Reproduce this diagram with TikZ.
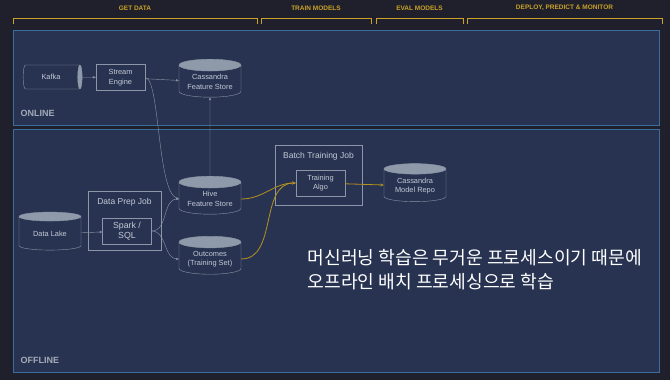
\documentclass[tikz,border=0pt]{standalone}
\usepackage{fontspec}
\setmainfont{Liberation Sans}
\newfontfamily\korean{Noto Sans CJK KR}
\usetikzlibrary{arrows.meta, positioning, shapes.geometric}
\definecolor{bgDark}{HTML}{1F202C}
\definecolor{panelFill}{HTML}{283352}
\definecolor{panelLine}{HTML}{3A6C9C}
\definecolor{headGold}{HTML}{C9A227}
\definecolor{lineGray}{HTML}{8C96A6}
\definecolor{textGray}{HTML}{C3CAD4}
\definecolor{capGray}{HTML}{8E99AA}
\definecolor{flowGold}{HTML}{B8921E}

\begin{document}
\begin{tikzpicture}[x=1pt, y=-1pt,
    head/.style={font=\bfseries\fontsize{6.5}{7}\selectfont, text=headGold},
    bracket/.style={draw=headGold, line width=0.8pt},
    panel/.style={draw=panelLine, fill=panelFill, line width=0.8pt},
    tag/.style={font=\bfseries\fontsize{9}{10}\selectfont, text=lineGray!80!white, anchor=west},
    db/.style={cylinder, shape border rotate=90, aspect=0.25, draw=lineGray,
               cylinder uses custom fill, cylinder body fill=panelFill,
               cylinder end fill=capGray, minimum width=62pt, minimum height=38pt,
               font=\fontsize{7.4}{9.5}\selectfont, text=textGray, align=center,
               inner sep=1pt},
    box/.style={rectangle, draw=lineGray, minimum width=49pt, minimum height=26pt,
                font=\fontsize{7.4}{9.5}\selectfont, text=textGray, align=center},
    job/.style={rectangle, draw=lineGray},
    flow/.style={draw=lineGray, -{Stealth[length=3pt, width=2.5pt]}},
    hot/.style={draw=flowGold, line width=0.8pt, -{Stealth[length=3.5pt, width=3pt]}},
  ]
    \fill[bgDark] (0,0) rectangle (670,380);
    \useasboundingbox (0,0) rectangle (670,380);

    % stage headers
    \foreach \xa/\xb/\txt [count=\i] in {13/257/GET DATA, 261/371/TRAIN MODELS,
        376/463/EVAL MODELS, 467/662/{DEPLOY, PREDICT \& MONITOR}} {
      \draw[bracket] (\xa,24) -- (\xa,18) -- (\xb,18) -- (\xb,24);
      \node[head] (h\i) at ({(\xa+\xb)/2},8) {\txt};
    }

    % lanes
    \draw[panel] (13,30) rectangle (659,125);
    \draw[panel] (13,129) rectangle (659,372);
    \node[tag] (online) at (17,113) {ONLINE};
    \node[tag] (offline) at (17,360) {OFFLINE};

    % online path
    \node[db, shape border rotate=0, minimum width=24pt, minimum height=59pt,
          aspect=0.6] (kafka) at (51,77) {Kafka};
    \node[box] (stream) at (120.5,77.5) {Stream\\Engine};
    \node[db] (cfs) at (210,82) {Cassandra\\Feature Store};

    % offline path
    \node[db] (lake) at (50,234) {Data Lake};
    \node[job, minimum width=73pt, minimum height=59pt] (prep) at (124.5,220.5) {};
    \node[font=\fontsize{8.5}{10}\selectfont, text=textGray, below=4pt of prep.north] (preplbl)
      {Data Prep Job};
    \node[box, font=\fontsize{8.8}{10.5}\selectfont] (spark) at (127,231) {Spark /\\SQL};
    \node[db] (hive) at (210,199) {Hive\\Feature Store};
    \node[db] (outc) at (210,259) {Outcomes\\(Training Set)};
    \node[job, minimum width=87pt, minimum height=60pt] (batch) at (318.5,175) {};
    \node[font=\fontsize{8.5}{10}\selectfont, text=textGray, below=4pt of batch.north] (batchlbl)
      {Batch Training Job};
    \node[box] (algo) at (320.5,183) {Training\\Algo};
    \node[db] (repo) at (415,186) {Cassandra\\Model Repo};

    \node[font=\korean\fontsize{18.2}{24}\selectfont, text=white, align=left, anchor=north west]
      (note) at (304,246)
      {머신러닝 학습은 무거운 프로세스이기 때문에\\오프라인 배치 프로세싱으로 학습};

    % connectors
    \draw[flow] (kafka) -- (stream);
    \draw[flow] (stream) -- (cfs);
    \draw[flow] (stream.east) .. controls (160,78) and (157,192) .. (hive.west);
    \draw[flow] (hive.north) -- (cfs.south);
    \draw[flow] (lake) -- (spark);
    \draw[flow] (spark.east) to[out=0, in=180] (hive.west);
    \draw[flow] (spark.east) to[out=0, in=180] (outc.west);
    \draw[hot] (hive.east) to[out=0, in=180] (algo.west);
    \draw[hot] (outc.east) to[out=0, in=180] (algo.west);
    \draw[hot] (algo) -- (repo);
  \end{tikzpicture}
\end{document}
